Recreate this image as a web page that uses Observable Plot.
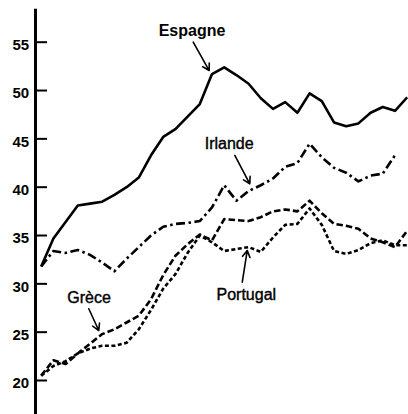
<!DOCTYPE html>
<html><head><meta charset="utf-8">
<script src="https://cdn.jsdelivr.net/npm/d3@7"></script>
<script src="https://cdn.jsdelivr.net/npm/@observablehq/plot@0.6"></script>
<style>body{margin:0;background:#fff}#chart svg{display:block}</style>
</head><body><div id="chart"></div>
<script>
// Years (x, unlabelled in the original)
const years = d3.range(1960, 1991);
// Series values
const espagne = [31.8,34.7,36.4,38.1,38.3,38.5,39.2,40.0,41.0,43.3,45.2,46.0,47.3,48.6,51.7,52.4,51.6,50.7,49.2,48.1,48.8,47.7,49.7,48.9,46.7,46.3,46.6,47.7,48.3,47.9,49.3];
const irlande = [31.8,33.4,33.2,33.5,33.0,32.2,31.3,32.6,33.8,35.0,35.9,36.2,36.3,36.5,37.9,40.2,38.6,39.6,40.2,40.9,42.1,42.5,44.5,43.1,42.0,41.5,40.6,41.2,41.4,43.3];
const grece = [20.5,22.1,21.7,22.8,23.8,24.8,25.3,26.0,26.7,28.4,30.9,32.9,34.1,35.1,34.5,36.7,36.6,36.5,36.9,37.5,37.7,37.5,38.6,37.3,36.2,36.0,35.7,34.7,34.3,33.8,35.5];
const portugal = [20.5,21.5,22.0,22.8,23.3,23.6,23.6,23.9,25.3,27.3,29.5,31.0,33.2,35.0,34.3,33.4,33.6,33.8,33.3,34.8,36.1,36.2,37.8,36.1,33.4,33.1,33.5,34.2,34.5,34.0,34.0];
const yTicks = [20,25,30,35,40,45,50,55];
const seriesNames = ["Espagne","Irlande","Grèce","Portugal"];

const toRows = (vals) => vals.map((v, i) => ({year: years[i], value: v}));
const series = [espagne, irlande, grece, portugal].map(toRows);

// Annotations (in data coordinates)
const labelPos = [
  {name: seriesNames[0], x: 1972.36, y: 56.2, weight: "bold"},
  {name: seriesNames[1], x: 1975.41, y: 44.43, weight: "normal"},
  {name: seriesNames[2], x: 1963.92, y: 28.53, weight: "normal"},
  {name: seriesNames[3], x: 1976.81, y: 28.88, weight: "normal"}
];
const arrows = [
  {x1: 1972.46, y1: 55.0, x2: 1973.77, y2: 52.07},
  {x1: 1975.87, y1: 43.28, x2: 1977.10, y2: 40.35},
  {x1: 1963.90, y1: 27.42, x2: 1964.72, y2: 25.17},
  {x1: 1976.48, y1: 30.17, x2: 1976.89, y2: 33.45}
];

const lineOpts = {x: "year", y: "value", stroke: "#000", strokeWidth: 2.6, strokeLinejoin: "round", strokeLinecap: "butt"};

const chart = Plot.plot({
  width: 408,
  height: 414,
  marginLeft: 40.7,
  marginRight: 1.3,
  marginTop: 41.7,
  marginBottom: 34,
  style: {fontFamily: "'Liberation Sans', Arial, sans-serif", background: "#fff", color: "#000"},
  x: {domain: [1960, 1990], axis: null},
  y: {domain: [20, 55], axis: null},
  marks: [
    Plot.ruleX([1960], {dx: -5.7, y1: 16.4, y2: 58.4, strokeWidth: 3, stroke: "#000"}),
    Plot.ruleY(yTicks, {x1: 1959.53, x2: 1960.52, strokeWidth: 2, stroke: "#000"}),
    Plot.axisY(yTicks, {tickSize: 0, tickPadding: 12, fontSize: 15, fontWeight: "bold", dy: 3, tickFormat: d => d, stroke: "#000", strokeWidth: 0.3}),
    Plot.line(series[0], {...lineOpts}),
    Plot.line(series[1], {...lineOpts, strokeDasharray: "9,3.5,2.5,3.5"}),
    Plot.line(series[2], {...lineOpts, strokeDasharray: "6.5,3"}),
    Plot.line(series[3], {...lineOpts, strokeDasharray: "4,2.5"}),
    Plot.arrow(arrows, {x1: "x1", y1: "y1", x2: "x2", y2: "y2", strokeWidth: 1.6, headLength: 7, stroke: "#000"}),
    Plot.text(labelPos.filter(d => d.weight === "bold"), {x: "x", y: "y", text: "name", fontSize: 16, fontWeight: "bold", fill: "#000"}),
    Plot.text(labelPos.filter(d => d.weight !== "bold"), {x: "x", y: "y", text: "name", fontSize: 16, fill: "#000", stroke: "#000", strokeWidth: 0.4})
  ]
});
document.getElementById("chart").append(chart);
</script>
</body></html>
